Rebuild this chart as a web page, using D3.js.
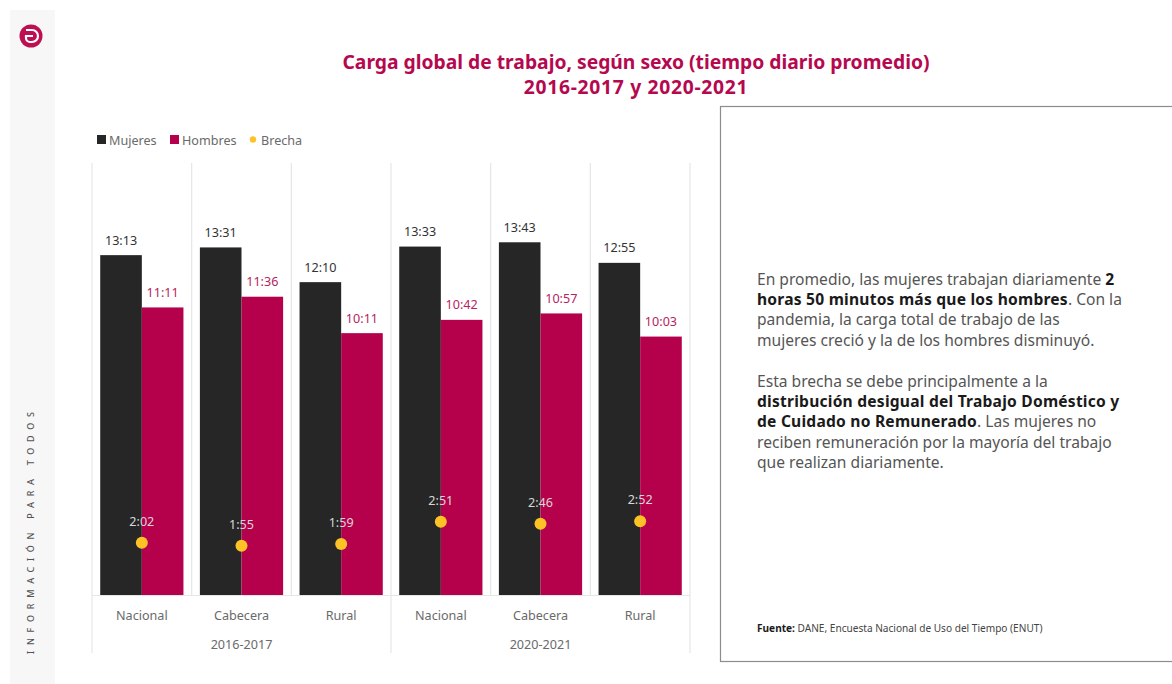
<!DOCTYPE html>
<html lang="es">
<head>
<meta charset="utf-8">
<script src="https://cdn.jsdelivr.net/npm/d3@7/dist/d3.min.js"></script>
<style>
html,body{margin:0;padding:0;background:#fff;}
svg{display:block;font-family:"Noto Sans","Open Sans",sans-serif;}
</style>
</head>
<body>
<svg id="chart" width="1172" height="684"></svg>
<script>
// Average daily workload by sex, expressed in minutes and labelled as h:mm
const places = ["Nacional", "Cabecera", "Rural", "Nacional", "Cabecera", "Rural"];
const periods = ["2016-2017", "2020-2021"];
const mujeres = ["13:13", "13:31", "12:10", "13:33", "13:43", "12:55"];
const hombres = ["11:11", "11:36", "10:11", "10:42", "10:57", "10:03"];
const brecha = ["2:02", "1:55", "1:59", "2:51", "2:46", "2:52"];
const seriesNames = ["Mujeres", "Hombres"];
const titleLines = ["Carga global de trabajo, según sexo (tiempo diario promedio)", "2016-2017 y 2020-2021"];
const noteLines = [
  [["En promedio, las mujeres trabajan diariamente ", 0], ["2", 1]],
  [["horas 50 minutos más que los hombres", 1], [". Con la", 0]],
  [["pandemia, la carga total de trabajo de las", 0]],
  [["mujeres creció y la de los hombres disminuyó.", 0]],
  [],
  [["Esta brecha se debe principalmente a la", 0]],
  [["distribución desigual del Trabajo Doméstico y", 1]],
  [["de Cuidado no Remunerado", 1], [". Las mujeres no", 0]],
  [["reciben remuneración por la mayoría del trabajo", 0]],
  [["que realizan diariamente.", 0]]
];

const colors = {Mujeres: "#262626", Hombres: "#b5004b", Brecha: "#fdc326"};
const toMinutes = s => { const [h, m] = s.split(":").map(Number); return h * 60 + m; };

const svg = d3.select("#chart");

// Side strip with the logo and the vertical motto
svg.append("rect").attr("x", 10).attr("y", 10).attr("width", 45).attr("height", 674).attr("fill", "#f7f7f7");
const logo = svg.append("g").attr("transform", "translate(31,36)");
logo.append("circle").attr("r", 11.5).attr("fill", "#bd0f52");
logo.append("path").attr("d", "M-5,-6H1A6,6 0 0 1 1,6H-1A4,4 0 0 1 -5,2V0H2")
  .attr("fill", "none").attr("stroke", "#fff").attr("stroke-width", 2.2);
svg.append("text").attr("transform", "translate(34,654) rotate(-90)")
  .attr("font-size", 9).attr("letter-spacing", 5.7).attr("fill", "#555").attr("font-weight", 500)
  .text("INFORMACIÓN PARA TODOS");

// Title
svg.append("g").selectAll("text").data(titleLines).join("text")
  .attr("x", 636).attr("y", (d, i) => 69 + i * 25)
  .attr("text-anchor", "middle").attr("font-size", 19.3).attr("font-weight", 700).attr("fill", "#b5084f")
  .attr("letter-spacing", (d, i) => i ? 0.7 : 0)
  .text(d => d);

// Scales
const x = d3.scaleBand().domain(d3.range(places.length)).range([92, 690]).paddingInner(0.165).paddingOuter(0.0825);
const sub = d3.scaleBand().domain(seriesNames).range([0, x.bandwidth()]);
const y = d3.scaleLinear().domain([0, 1008]).range([595, 163]);
const edge = i => x.range()[0] + i * x.step();

// Frame lines of the multi-level category axis
const grid = svg.append("g").attr("stroke", "#e6e6e6").attr("stroke-width", 1.2);
d3.range(places.length + 1).forEach(i => {
  const major = i % 3 === 0;
  grid.append("line").attr("x1", edge(i)).attr("x2", edge(i))
    .attr("y1", y.range()[1]).attr("y2", major ? 653 : 595);
});
grid.append("line").attr("x1", edge(0)).attr("x2", edge(places.length)).attr("y1", 595.5).attr("y2", 595.5);

// Bars
seriesNames.forEach((name, s) => {
  const values = s === 0 ? mujeres : hombres;
  svg.append("g").selectAll("rect").data(values).join("rect")
    .attr("x", (d, i) => x(i) + sub(name))
    .attr("y", d => y(toMinutes(d)))
    .attr("width", sub.bandwidth())
    .attr("height", d => y(0) - y(toMinutes(d)))
    .attr("fill", colors[name]);
  svg.append("g").selectAll("text").data(values).join("text")
    .attr("x", (d, i) => x(i) + sub(name) + sub.bandwidth() / 2)
    .attr("y", d => y(toMinutes(d)) - 10.5)
    .attr("text-anchor", "middle").attr("font-size", 12.6)
    .attr("fill", s === 0 ? "#333" : "#b5245f")
    .text(d => d);
});

// Gap markers
const centre = i => x(i) + x.bandwidth() / 2;
svg.append("g").selectAll("circle").data(brecha).join("circle")
  .attr("cx", (d, i) => centre(i)).attr("cy", d => y(toMinutes(d))).attr("r", 6).attr("fill", colors.Brecha);
svg.append("g").selectAll("text").data(brecha).join("text")
  .attr("x", (d, i) => centre(i)).attr("y", d => y(toMinutes(d)) - 17)
  .attr("text-anchor", "middle").attr("font-size", 12.6).attr("fill", "#d8d8d8")
  .text(d => d);

// Category and period labels
svg.append("g").selectAll("text").data(places).join("text")
  .attr("x", (d, i) => centre(i)).attr("y", 620)
  .attr("text-anchor", "middle").attr("font-size", 12.6).attr("fill", "#6a6a6a").text(d => d);
svg.append("g").selectAll("text").data(periods).join("text")
  .attr("x", (d, i) => centre(i * 3 + 1)).attr("y", 649)
  .attr("text-anchor", "middle").attr("font-size", 12.6).attr("fill", "#6a6a6a").text(d => d);

// Legend
const legend = svg.append("g").attr("font-size", 12.6).attr("fill", "#6a6a6a");
[["Mujeres", 97, 109], ["Hombres", 170, 182]].forEach(([name, bx, tx]) => {
  legend.append("rect").attr("x", bx).attr("y", 135).attr("width", 9).attr("height", 9).attr("fill", colors[name]);
  legend.append("text").attr("x", tx).attr("y", 144.5).text(name);
});
legend.append("circle").attr("cx", 253).attr("cy", 139.5).attr("r", 3.2).attr("fill", colors.Brecha);
legend.append("text").attr("x", 261).attr("y", 144.5).text("Brecha");

// Commentary box
svg.append("rect").attr("x", 720.5).attr("y", 106.5).attr("width", 460).attr("height", 555)
  .attr("fill", "#fff").attr("stroke", "#8c8c8c").attr("stroke-width", 1.2);
const note = svg.append("g").attr("font-size", 15.6);
noteLines.forEach((parts, i) => {
  const t = note.append("text").attr("x", 757).attr("y", 284.6 + i * 20.4);
  parts.forEach(([str, bold]) => {
    t.append("tspan").attr("font-weight", bold ? 700 : 400).attr("fill", bold ? "#1a1a1a" : "#555")
      .attr("letter-spacing", bold ? 0.22 : 0).text(str);
  });
});
const src = svg.append("text").attr("x", 757).attr("y", 632).attr("font-size", 10.1).attr("fill", "#444");
src.append("tspan").attr("font-weight", 700).attr("fill", "#1a1a1a").text("Fuente:");
src.append("tspan").text(" DANE, Encuesta Nacional de Uso del Tiempo (ENUT)");
</script>
</body>
</html>
